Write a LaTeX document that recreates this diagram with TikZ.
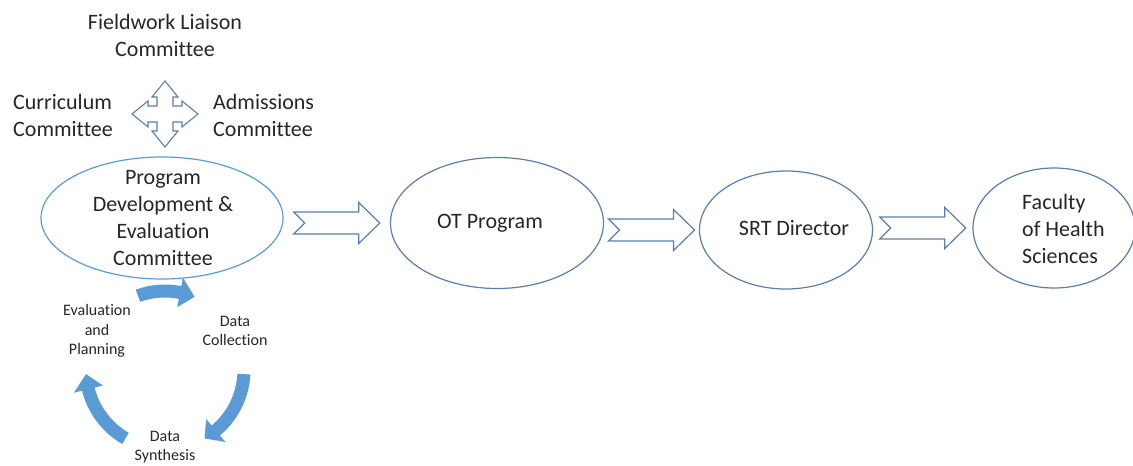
\documentclass[tikz,border=0pt]{standalone}
\usepackage{fontspec}
\setmainfont{Carlito}[Ligatures=NoCommon]
\usetikzlibrary{shapes.geometric,calc}
\definecolor{ink}{HTML}{262626}
\definecolor{pdeblue}{HTML}{5B9BD5}
\definecolor{frameblue}{HTML}{5A7EAE}
\definecolor{cyclefill}{HTML}{5B9BD5}

% curved cycle arrow around (cyc): #1 tail angle, #2 head base angle, #3 tip angle
\newcommand\cyclearrow[3]{%
  \fill[cyclefill] ($(cyc)+(#1:85.5)$) arc[start angle=#1, end angle=#2, radius=85.5]
    -- ($(cyc)+(#2:94)$) -- ($(cyc)+(#3:79)$) -- ($(cyc)+(#2:64)$)
    -- ($(cyc)+(#2:72.5)$) arc[start angle=#2, end angle=#1, radius=72.5] -- cycle;}

\begin{document}
\begin{tikzpicture}[x=1pt,y=-1pt,
  bigtext/.style={inner sep=0pt, text=ink, align=center, font=\fontsize{22}{27}\selectfont},
  smalltext/.style={inner sep=0pt, text=ink, align=center, font=\fontsize{16}{19.5}\selectfont},
  ell/.style={ellipse, draw=frameblue, line width=1.2pt, inner sep=0pt},
  blockline/.style={draw=frameblue, line width=1.2pt, line join=miter, fill=white},
  notcharrow/.pic={\path[blockline] (-43,-11) -- (-32,0) -- (-43,11) -- (22,11) -- (22,20.5)
      -- (43,0) -- (22,-20.5) -- (22,-11) -- cycle;},
  quadarrow/.pic={\path[blockline, line width=1.1pt] (0,-33) -- (-13,-17) -- (-8,-17) -- (-8,-8) -- (-17,-8) -- (-17,-13)
      -- (-33,0) -- (-17,13) -- (-17,8) -- (-8,8) -- (-8,17) -- (-13,17)
      -- (0,33) -- (13,17) -- (8,17) -- (8,8) -- (17,8) -- (17,13)
      -- (33,0) -- (17,-13) -- (17,-8) -- (8,-8) -- (8,-17) -- (13,-17) -- cycle;}
]
\useasboundingbox (0,0) rectangle (1133,466);
\clip (0,0) rectangle (1133,466);

% committees around the quad arrow
\node[bigtext] (fieldwork) at (165,35) {Fieldwork Liaison\\Committee};
\node[bigtext, anchor=west, align=left] (curriculum) at (13,115) {Curriculum\\Committee};
\node[bigtext, anchor=west, align=left] (admissions) at (213,115) {Admissions\\Committee};
\coordinate (quad) at (165,114);
\pic at (quad) {quadarrow};

% main chain of ellipses
\node[ell, draw=pdeblue, minimum width=242pt, minimum height=122pt] (pde) at (162,218) {};
\node[bigtext] (pdetext) at (163,218) {Program\\Development \&\\Evaluation\\Committee};

\node[ell, minimum width=213pt, minimum height=131pt] (ot) at (497,223) {};
\node[bigtext] (ottext) at (490,223) {OT Program};

\node[ell, minimum width=173pt, minimum height=118pt] (srt) at (786,230) {};
\node[bigtext] (srttext) at (794,228) {SRT Director};

\node[ell, minimum width=162pt, minimum height=120pt] (fhs) at (1054,228) {};
\node[bigtext, anchor=west, align=left] (fhstext) at (1022,229) {Faculty\\of Health\\Sciences};

% notched block arrows between the ellipses
\coordinate (gap1) at ($(pde.east)!0.5!(ot.west)$);
\coordinate (gap2) at ($(ot.east)!0.5!(srt.west)$);
\coordinate (gap3) at ($(srt.east)!0.5!(fhs.west)$);
\pic at (gap1 |- ot) {notcharrow};
\pic at (gap2 |- srt) {notcharrow};
\pic at (gap3 |- fhs) {notcharrow};

% evaluation cycle
\coordinate (cyc) at (165,370);
\node[smalltext] (evalplan) at (97,331) {Evaluation\\and\\Planning};
\node[smalltext] (collect) at (235,331) {Data\\Collection};
\node[smalltext] (synth) at (165,447) {Data\\Synthesis};
\cyclearrow{-110}{-79}{-68}
\cyclearrow{3}{50}{60}
\cyclearrow{120}{166}{177}
\end{tikzpicture}
\end{document}
